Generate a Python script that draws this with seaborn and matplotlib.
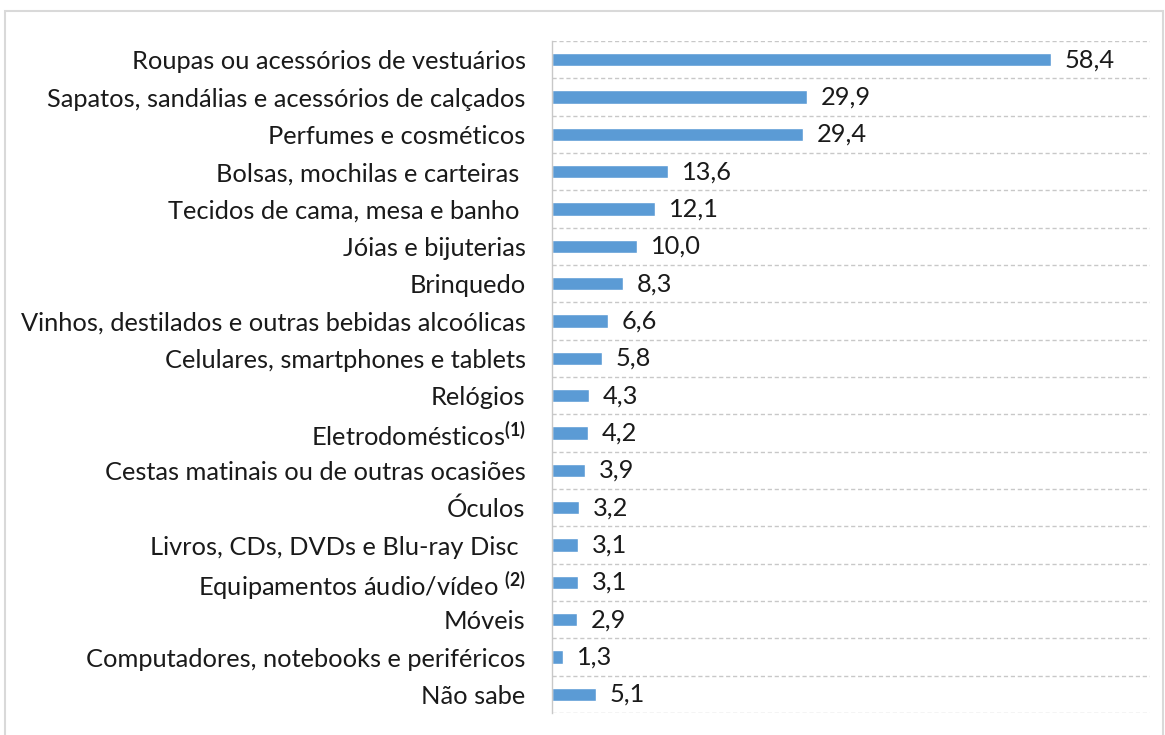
"""
Horizontal bar chart: products bought (percent), recreated with seaborn.
"""

import numpy as np
import pandas as pd
import matplotlib
matplotlib.use("Agg")
import matplotlib.pyplot as plt
import seaborn as sns
from matplotlib.patches import Rectangle

categories = [
    "Roupas ou acessórios de vestuários",
    "Sapatos, sandálias e acessórios de calçados",
    "Perfumes e cosméticos",
    "Bolsas, mochilas e carteiras ",
    "Tecidos de cama, mesa e banho ",
    "Jóias e bijuterias",
    "Brinquedo",
    "Vinhos, destilados e outras bebidas alcoólicas",
    "Celulares, smartphones e tablets",
    "Relógios",
    r"Eletrodomésticos$^{\mathbf{(1)}}$",
    "Cestas matinais ou de outras ocasiões",
    "Óculos",
    "Livros, CDs, DVDs e Blu-ray Disc ",
    r"Equipamentos áudio/vídeo $^{\mathbf{(2)}}$",
    "Móveis",
    "Computadores, notebooks e periféricos",
    "Não sabe",
]
values = [58.4, 29.9, 29.4, 13.6, 12.1, 10.0, 8.3, 6.6, 5.8,
          4.3, 4.2, 3.9, 3.2, 3.1, 3.1, 2.9, 1.3, 5.1]

sns.set_theme(style="white")
plt.rcParams["font.family"] = ["Lato", "DejaVu Sans"]
plt.rcParams["mathtext.fontset"] = "custom"
plt.rcParams["mathtext.rm"] = "Lato"
plt.rcParams["mathtext.bf"] = "Lato:bold"

df = pd.DataFrame({"categoria": categories, "valor": values})

fig = plt.figure(figsize=(11.65, 7.35), dpi=100)
ax = fig.add_axes([0.4738, 0.0299, 0.987 - 0.4738, 0.9442 - 0.0299])

sns.barplot(data=df, x="valor", y="categoria", color="#5B9BD5",
            width=0.35, ax=ax, orient="h", saturation=1)

ax.set_xlim(0, 70)
ax.set_ylim(len(categories) - 0.5, -0.5)
ax.set_xlabel("")
ax.set_ylabel("")
ax.set_xticks([])

# dashed separators between categories
ax.set_yticks(np.arange(-0.5, len(categories)), minor=True)
ax.grid(True, which="minor", axis="y", linestyle=(0, (3, 2)),
        color="#c8c8c8", linewidth=1)
ax.grid(False, which="major")
ax.tick_params(axis="y", which="both", length=0, pad=19, labelsize=18.3,
               labelcolor="#1a1a1a")

for side in ["top", "right", "bottom"]:
    ax.spines[side].set_visible(False)
ax.spines["left"].set_color("#c8c8c8")
ax.spines["left"].set_linewidth(1)

for i, v in enumerate(values):
    ax.text(v + 1.6, i, f"{v:.1f}".replace(".", ","), va="center",
            ha="left", fontsize=18.3, color="#1a1a1a")

# outer chart frame
fig.patches.append(Rectangle((5 / 1165, -0.01), 1 - 7 / 1165, 1 - 11 / 735 + 0.01,
                             transform=fig.transFigure, fill=False,
                             edgecolor="#d9d9d9", linewidth=1.5))

fig.savefig("out.png", dpi=100)
plt.close(fig)
